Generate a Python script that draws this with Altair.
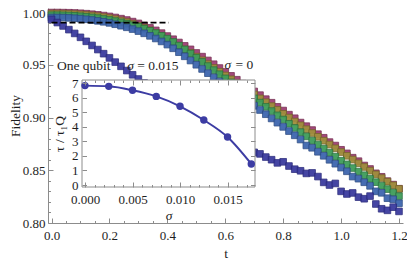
import altair as alt
import pandas as pd

FONT = "Liberation Serif"
AX = "#8c8c8c"
TXT = "#1e1e1e"

# ---------------- main panel data ----------------
t_vals = [round(0.02 * i, 2) for i in range(61)]

sigma_000 = [.9995, .9995, .9994, .9993, .9991, .9988, .9984, .9979, .9973, .9966,
             .9958, .9948, .9937, .9924, .9909, .9892, .9872, .9850, .9826, .9800,
             .9772, .9742, .9711, .9679, .9646, .9612, .9577, .9541, .9505, .9469,
             .9432, .9395, .9358, .9321, .9284, .9247, .9212, .9174, .9140, .9101,
             .9066, .9027, .8993, .8952, .8918, .8881, .8842, .8808, .8767, .8734,
             .8694, .8660, .8619, .8586, .8545, .8512, .8471, .8438, .8397, .8364, .8325]

sigma_005 = [.9985, .9985, .9984, .9982, .9980, .9977, .9972, .9967, .9960, .9952,
             .9943, .9932, .9919, .9905, .9889, .9870, .9849, .9826, .9800, .9772,
             .9742, .9711, .9679, .9646, .9612, .9577, .9542, .9506, .9470, .9434,
             .9398, .9362, .9326, .9290, .9254, .9218, .9181, .9145, .9108, .9072,
             .9035, .8999, .8962, .8926, .8889, .8853, .8817, .8780, .8744, .8708,
             .8672, .8637, .8601, .8566, .8531, .8496, .8461, .8426, .8392, .8357, .8323]

sigma_010 = [.9970, .9970, .9969, .9967, .9964, .9960, .9955, .9949, .9942, .9934,
             .9925, .9914, .9902, .9889, .9875, .9860, .9842, .9822, .9800, .9775,
             .9748, .9716, .9682, .9645, .9606, .9566, .9527, .9488, .9449, .9410,
             .9371, .9333, .9295, .9257, .9219, .9181, .9141, .9101, .9061, .9021,
             .8981, .8941, .8901, .8861, .8821, .8781, .8743, .8705, .8667, .8629,
             .8591, .8556, .8521, .8487, .8453, .8420, .8387, .8354, .8321, .8288, .8255]

sigma_015 = [.9948, .9948, .9947, .9944, .9941, .9937, .9931, .9924, .9916, .9907,
             .9897, .9884, .9870, .9855, .9838, .9819, .9798, .9774, .9749, .9721,
             .9691, .9656, .9619, .9580, .9540, .9500, .9460, .9420, .9380, .9341,
             .9302, .9263, .9225, .9187, .9149, .9111, .9071, .9031, .8991, .8951,
             .8911, .8871, .8831, .8791, .8735, .8713, .8675, .8637, .8599, .8562,
             .8525, .8490, .8440, .8420, .8386, .8352, .8300, .8286, .8235, .8225, .8187]

one_qubit = [.9930, .9900, .9868, .9833, .9797, .9760, .9722, .9683, .9644, .9605,
             .9565, .9525, .9485, .9445, .9405, .9365, .9327, .9289, .9251, .9214,
             .9177, .9141, .9105, .9070, .9035, .9001, .8967, .8932, .8898, .8865,
             .8832, .8800, .8768, .8737, .8705, .8670, .8655, .8625, .8600, .8570,
             .8580, .8540, .8510, .8495, .8470, .8475, .8440, .8385, .8360, .8375,
             .8300, .8275, .8285, .8245, .8230, .8255, .8180, .8135, .8120, .8150, .8110]

series_names = ["σ = 0", "σ = 0.005", "σ = 0.01", "σ = 0.015", "One qubit"]
series_vals = [sigma_000, sigma_005, sigma_010, sigma_015, one_qubit]
fill_colors = ["#9e3f73", "#a08e3d", "#3f9c5a", "#3e66ae", "#3c3c9f"]
edge_colors = ["#74294f", "#75662a", "#2b7140", "#2b4a82", "#28287a"]

rows = []
for name, vals in zip(series_names, series_vals):
    for tt, ff in zip(t_vals, vals):
        rows.append({"t": tt, "F": ff, "series": name})
main_df = pd.DataFrame(rows)

dash_t = [0.0, 0.405]
dash_F = [0.99, 0.99]

ann_text = ["One qubit", "= 0.015", "= 0"]
ann_t = [0.019, 0.296, 0.635]
ann_F = [0.9488, 0.9488, 0.9495]
sig_text = ["σ", "σ"]
sig_t = [0.262, 0.5975]
sig_F = [0.9488, 0.9495]

# ---------------- inset data ----------------
inset_sigma = [0.0, 0.0025, 0.005, 0.0075, 0.01, 0.0125, 0.015, 0.0175]
inset_ratio = [6.82, 6.77, 6.50, 6.08, 5.40, 4.46, 3.29, 1.44]

# ---------------- geometry ----------------
W, H = 355, 215
X_DOM = [-0.0121, 1.2138]
Y_DOM = [0.80, 1.0038]
IN_L, IN_R, IN_T, IN_B = 34, 207, 72, 179
IX_DOM = [-0.000316, 0.01789]
IY_DOM = [-0.137, 7.206]

x_major = [0.0, 0.2, 0.4, 0.6, 0.8, 1.0, 1.2]
x_all = [round(0.05 * i, 2) for i in range(25)]
y_major = [0.80, 0.85, 0.90, 0.95, 1.00]
y_all = [round(0.80 + 0.01 * i, 2) for i in range(21)]
ix_major = [0.0, 0.005, 0.010, 0.015]
ix_all = [round(0.001 * i, 3) for i in range(18)]
iy_major = [0, 1, 2, 3, 4, 5, 6, 7]


def cond_size(step_mult, big, small):
    return {"condition": {"test": f"abs(datum.value*{step_mult} - round(datum.value*{step_mult})) < 0.01",
                          "value": big}, "value": small}


xs = alt.Scale(domain=X_DOM, nice=False, zero=False)
ys = alt.Scale(domain=Y_DOM, nice=False, zero=False)

squares = alt.Chart(main_df).mark_square(size=44, opacity=0.95, strokeWidth=0.8).encode(
    x=alt.X("t:Q", scale=xs, axis=alt.Axis(orient="bottom", values=x_major, format=".1f", ticks=False,
                                           domain=True, labelPadding=6, labelFlush=False,
                                           title="t", titlePadding=4)),
    y=alt.Y("F:Q", scale=ys, axis=alt.Axis(orient="left", values=y_major, format=".2f", ticks=False,
                                           domain=True, labelPadding=3, labelFlush=False,
                                           labelOffset={"condition": {"test": "datum.value > 0.995", "value": 1.5},
                                                        "value": 0},
                                           title="Fidelity", titlePadding=0)),
    color=alt.Color("series:N", scale=alt.Scale(domain=series_names, range=fill_colors), legend=None),
    stroke=alt.Stroke("series:N", scale=alt.Scale(domain=series_names, range=edge_colors), legend=None),
)

dashed = alt.Chart(pd.DataFrame({"t": dash_t, "F": dash_F})).mark_line(
    color="black", strokeDash=[6, 3], strokeWidth=1.8).encode(
    x=alt.X("t:Q", scale=xs, axis=alt.Axis(orient="top", offset=-H, values=x_all, labels=False, domain=False,
                                           tickSize=cond_size(5, 5, 2.5), title=None)),
    y=alt.Y("F:Q", scale=ys, axis=alt.Axis(orient="right", offset=-W, values=y_all, labels=False, domain=False,
                                           tickSize=cond_size(20, 5, 2.5), title=None)),
)

ann = alt.Chart(pd.DataFrame({"t": ann_t, "F": ann_F, "txt": ann_text})).mark_text(
    align="left", baseline="middle", font=FONT, fontSize=13.5, color=TXT).encode(
    x=alt.X("t:Q", scale=xs, axis=None), y=alt.Y("F:Q", scale=ys, axis=None), text="txt:N")

sig = alt.Chart(pd.DataFrame({"t": sig_t, "F": sig_F, "txt": sig_text})).mark_text(
    align="left", baseline="middle", font=FONT, fontSize=13.5, fontStyle="italic", color=TXT).encode(
    x=alt.X("t:Q", scale=xs, axis=None), y=alt.Y("F:Q", scale=ys, axis=None), text="txt:N")

main = alt.layer(squares, dashed, ann, sig).resolve_axis(x="independent", y="independent")

# ---------------- inset ----------------
ixs = alt.Scale(domain=IX_DOM, range=[IN_L, IN_R], nice=False, zero=False)
iys = alt.Scale(domain=IY_DOM, range=[IN_B, IN_T], nice=False, zero=False)

bg = alt.Chart(pd.DataFrame({"a": [IX_DOM[0]], "b": [IX_DOM[1]], "c": [IY_DOM[0]], "d": [IY_DOM[1]]})).mark_rect(
    fill="white", stroke=AX, strokeWidth=1).encode(
    x=alt.X("a:Q", scale=ixs, axis=alt.Axis(orient="bottom", offset=-(H - IN_B), values=ix_major, format=".3f",
                                            ticks=False, domain=False, labelPadding=6, labelFlush=False,
                                            title="σ", titleFontStyle="italic", titleColor=TXT,
                                            titlePadding=2, zindex=1)),
    x2="b:Q",
    y=alt.Y("c:Q", scale=iys, axis=alt.Axis(orient="left", offset=-IN_L, values=iy_major, format="d",
                                            ticks=False, domain=False, labelPadding=4, labelFlush=False,
                                            title="τ / τ₁Q", titleColor=TXT, titlePadding=5, zindex=1)),
    y2="d:Q",
)

inset_df = pd.DataFrame({"s": inset_sigma, "r": inset_ratio})
iline = alt.Chart(inset_df).mark_line(interpolate="monotone", color="#3c3ca3", strokeWidth=2).encode(
    x=alt.X("s:Q", scale=ixs, axis=alt.Axis(orient="top", offset=-IN_B, values=ix_all, labels=False,
                                            domain=False, tickSize=cond_size(200, 5, 2.5), title=None, zindex=1)),
    y=alt.Y("r:Q", scale=iys, axis=alt.Axis(orient="right", offset=-(W - IN_L), values=iy_major, labels=False,
                                            domain=False, tickSize=4.5, title=None, zindex=1)),
)

ipts = alt.Chart(inset_df).mark_circle(size=55, color="#3c3ca3", opacity=1).encode(
    x=alt.X("s:Q", scale=ixs, axis=alt.Axis(orient="bottom", offset=-(H - IN_T), values=ix_all, labels=False,
                                            domain=False, tickSize=cond_size(200, 5, 2.5), title=None, zindex=1)),
    y=alt.Y("r:Q", scale=iys, axis=alt.Axis(orient="left", offset=-IN_R, values=iy_major, labels=False,
                                            domain=False, tickSize=4.5, title=None, zindex=1)),
)

inset = alt.layer(bg, iline, ipts).resolve_axis(x="independent", y="independent")

chart = alt.layer(main, inset).resolve_scale(x="independent", y="independent").properties(
    width=W, height=H,
    padding={"left": 40, "top": 0, "right": 4, "bottom": 42},
    autosize=alt.AutoSizeParams(type="none"),
).configure_axis(
    labelFont=FONT, titleFont=FONT, labelFontSize=13, titleFontSize=13.5,
    labelColor=TXT, titleColor=TXT, titleFontWeight="normal",
    domainColor=AX, tickColor=AX, grid=False,
).configure_view(stroke=None)

chart.save("out.html", embed_options={"renderer": "svg", "actions": False})
